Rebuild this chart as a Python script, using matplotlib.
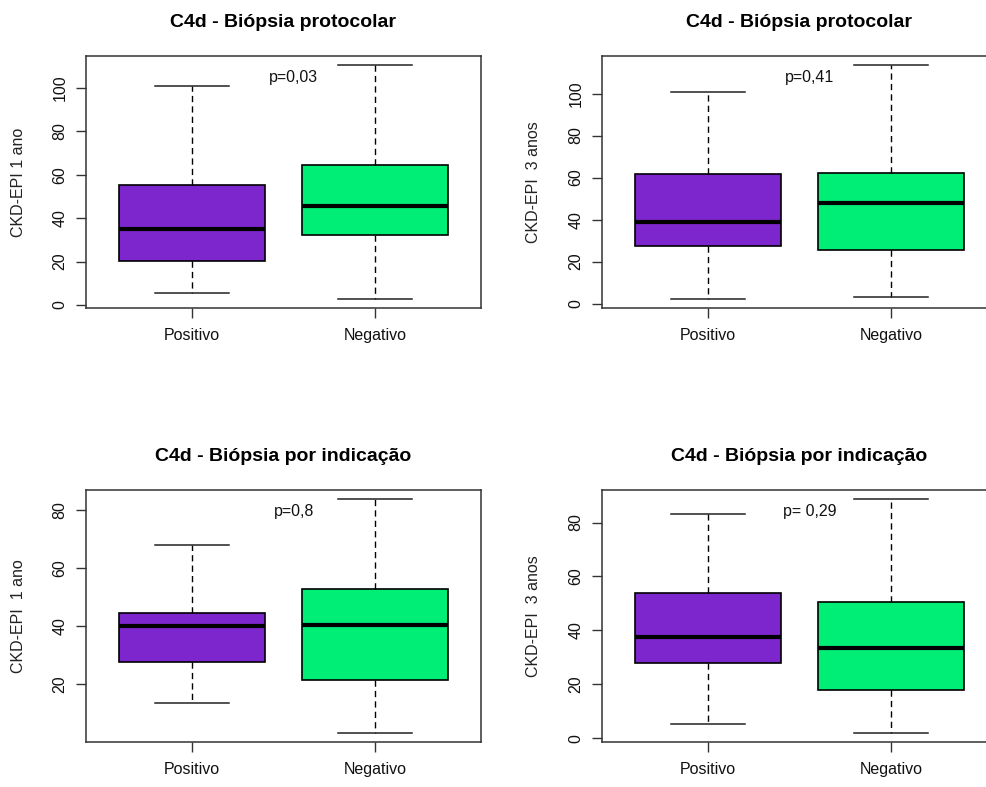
import numpy as np
import matplotlib.pyplot as plt

plt.rcParams['font.family'] = ['Liberation Sans', 'DejaVu Sans']

#GRUPOS E CORES
grupos = ['Positivo', 'Negativo']
cores = ['#7D26CD', '#00EE76']

#C4d - BIÓPSIA PROTOCOLAR, CKD-EPI 1 ANO
prot1_min = [5.5, 2.9]
prot1_q1 = [20.3, 32.2]
prot1_med = [35.0, 45.8]
prot1_q3 = [55.4, 64.3]
prot1_max = [100.8, 110.4]

#C4d - BIÓPSIA PROTOCOLAR, CKD-EPI 3 ANOS
prot3_min = [2.4, 3.0]
prot3_q1 = [27.5, 25.6]
prot3_med = [39.0, 47.9]
prot3_q3 = [61.9, 62.4]
prot3_max = [100.5, 113.4]

#C4d - BIÓPSIA POR INDICAÇÃO, CKD-EPI 1 ANO
ind1_min = [13.6, 3.3]
ind1_q1 = [27.6, 21.6]
ind1_med = [40.0, 40.6]
ind1_q3 = [44.6, 52.8]
ind1_max = [68.0, 83.8]

#C4d - BIÓPSIA POR INDICAÇÃO, CKD-EPI 3 ANOS
ind3_min = [5.3, 2.1]
ind3_q1 = [28.1, 18.1]
ind3_med = [37.6, 33.5]
ind3_q3 = [54.0, 50.7]
ind3_max = [83.2, 88.6]

#TEXTOS
titulos = ['C4d - Biópsia protocolar', 'C4d - Biópsia protocolar',
           'C4d - Biópsia por indicação', 'C4d - Biópsia por indicação']
rotulos_y = ['CKD-EPI 1 ano', 'CKD-EPI  3 anos', 'CKD-EPI  1 ano', 'CKD-EPI  3 anos']
valores_p = ['p=0,03', 'p=0,41', 'p=0,8', 'p= 0,29']
altura_p = [105, 107.5, 79.5, 84]
ticks_y = [[0, 20, 40, 60, 80, 100], [0, 20, 40, 60, 80, 100],
           [20, 40, 60, 80], [0, 20, 40, 60, 80]]

paineis = [
    (prot1_min, prot1_q1, prot1_med, prot1_q3, prot1_max),
    (prot3_min, prot3_q1, prot3_med, prot3_q3, prot3_max),
    (ind1_min, ind1_q1, ind1_med, ind1_q3, ind1_max),
    (ind3_min, ind3_q1, ind3_med, ind3_q3, ind3_max),
]

#POSIÇÃO DOS PAINÉIS (em pixels: esquerda, topo)
W, H = 987, 787
cantos = [(86, 56), (602, 56), (86, 490), (602, 490)]
larg, alt = 395, 252

fig = plt.figure(figsize=(W / 100, H / 100), dpi=100)

for i, (mins, q1s, meds, q3s, maxs) in enumerate(paineis):
    x0, y0 = cantos[i]
    # painéis da direita são cortados na borda da figura
    larg_vis = min(larg, W - x0)
    ax = fig.add_axes([x0 / W, 1 - (y0 + alt) / H, larg_vis / W, alt / H])

    stats = [dict(whislo=mins[k], q1=q1s[k], med=meds[k], q3=q3s[k],
                  whishi=maxs[k], label=grupos[k]) for k in range(len(grupos))]
    bp = ax.bxp(stats, positions=[1, 2], widths=0.8, capwidths=0.4,
                patch_artist=True, showfliers=False,
                boxprops=dict(edgecolor='black', linewidth=1.2),
                medianprops=dict(color='black', linewidth=3, solid_capstyle='butt'),
                whiskerprops=dict(color='black', linewidth=1, linestyle=(0, (4.5, 3))),
                capprops=dict(color='#222222', linewidth=1.1))
    for caixa, cor in zip(bp['boxes'], cores):
        caixa.set_facecolor(cor)

    #LIMITES COM EXTENSÃO DE 4%
    ext_x = 0.04 * len(grupos)
    x_lo, x_hi = 0.5 - ext_x, len(grupos) + 0.5 + ext_x
    ax.set_xlim(x_lo, x_lo + (x_hi - x_lo) * larg_vis / larg)
    lo, hi = min(mins), max(maxs)
    ext_y = 0.04 * (hi - lo)
    ax.set_ylim(lo - ext_y, hi + ext_y)

    ax.set_yticks(ticks_y[i])
    ax.set_yticklabels([str(t) for t in ticks_y[i]], rotation=90, va='center')
    ax.tick_params(axis='both', length=7.2, width=1, color='#333333',
                   labelsize=11.5, labelcolor='#111111')
    ax.tick_params(axis='y', pad=6)
    ax.tick_params(axis='x', pad=7)
    for s in ax.spines.values():
        s.set_linewidth(1.1)
        s.set_color('#333333')
    if larg_vis < larg:
        ax.spines['right'].set_visible(False)

    # título centrado no painel inteiro
    ax.set_title(titulos[i], fontsize=14, fontweight='bold', pad=21,
                 x=0.5 * larg / larg_vis)
    ax.set_ylabel(rotulos_y[i], fontsize=11.5, color='#222222')
    ax.yaxis.set_label_coords(-68 / larg_vis, 0.5)
    ax.yaxis.label.set_va('center')

    ax.text(1.557, altura_p[i], valores_p[i], ha='center', va='center',
            fontsize=11.5, color='#111111')

plt.savefig('out.png', dpi=100)
